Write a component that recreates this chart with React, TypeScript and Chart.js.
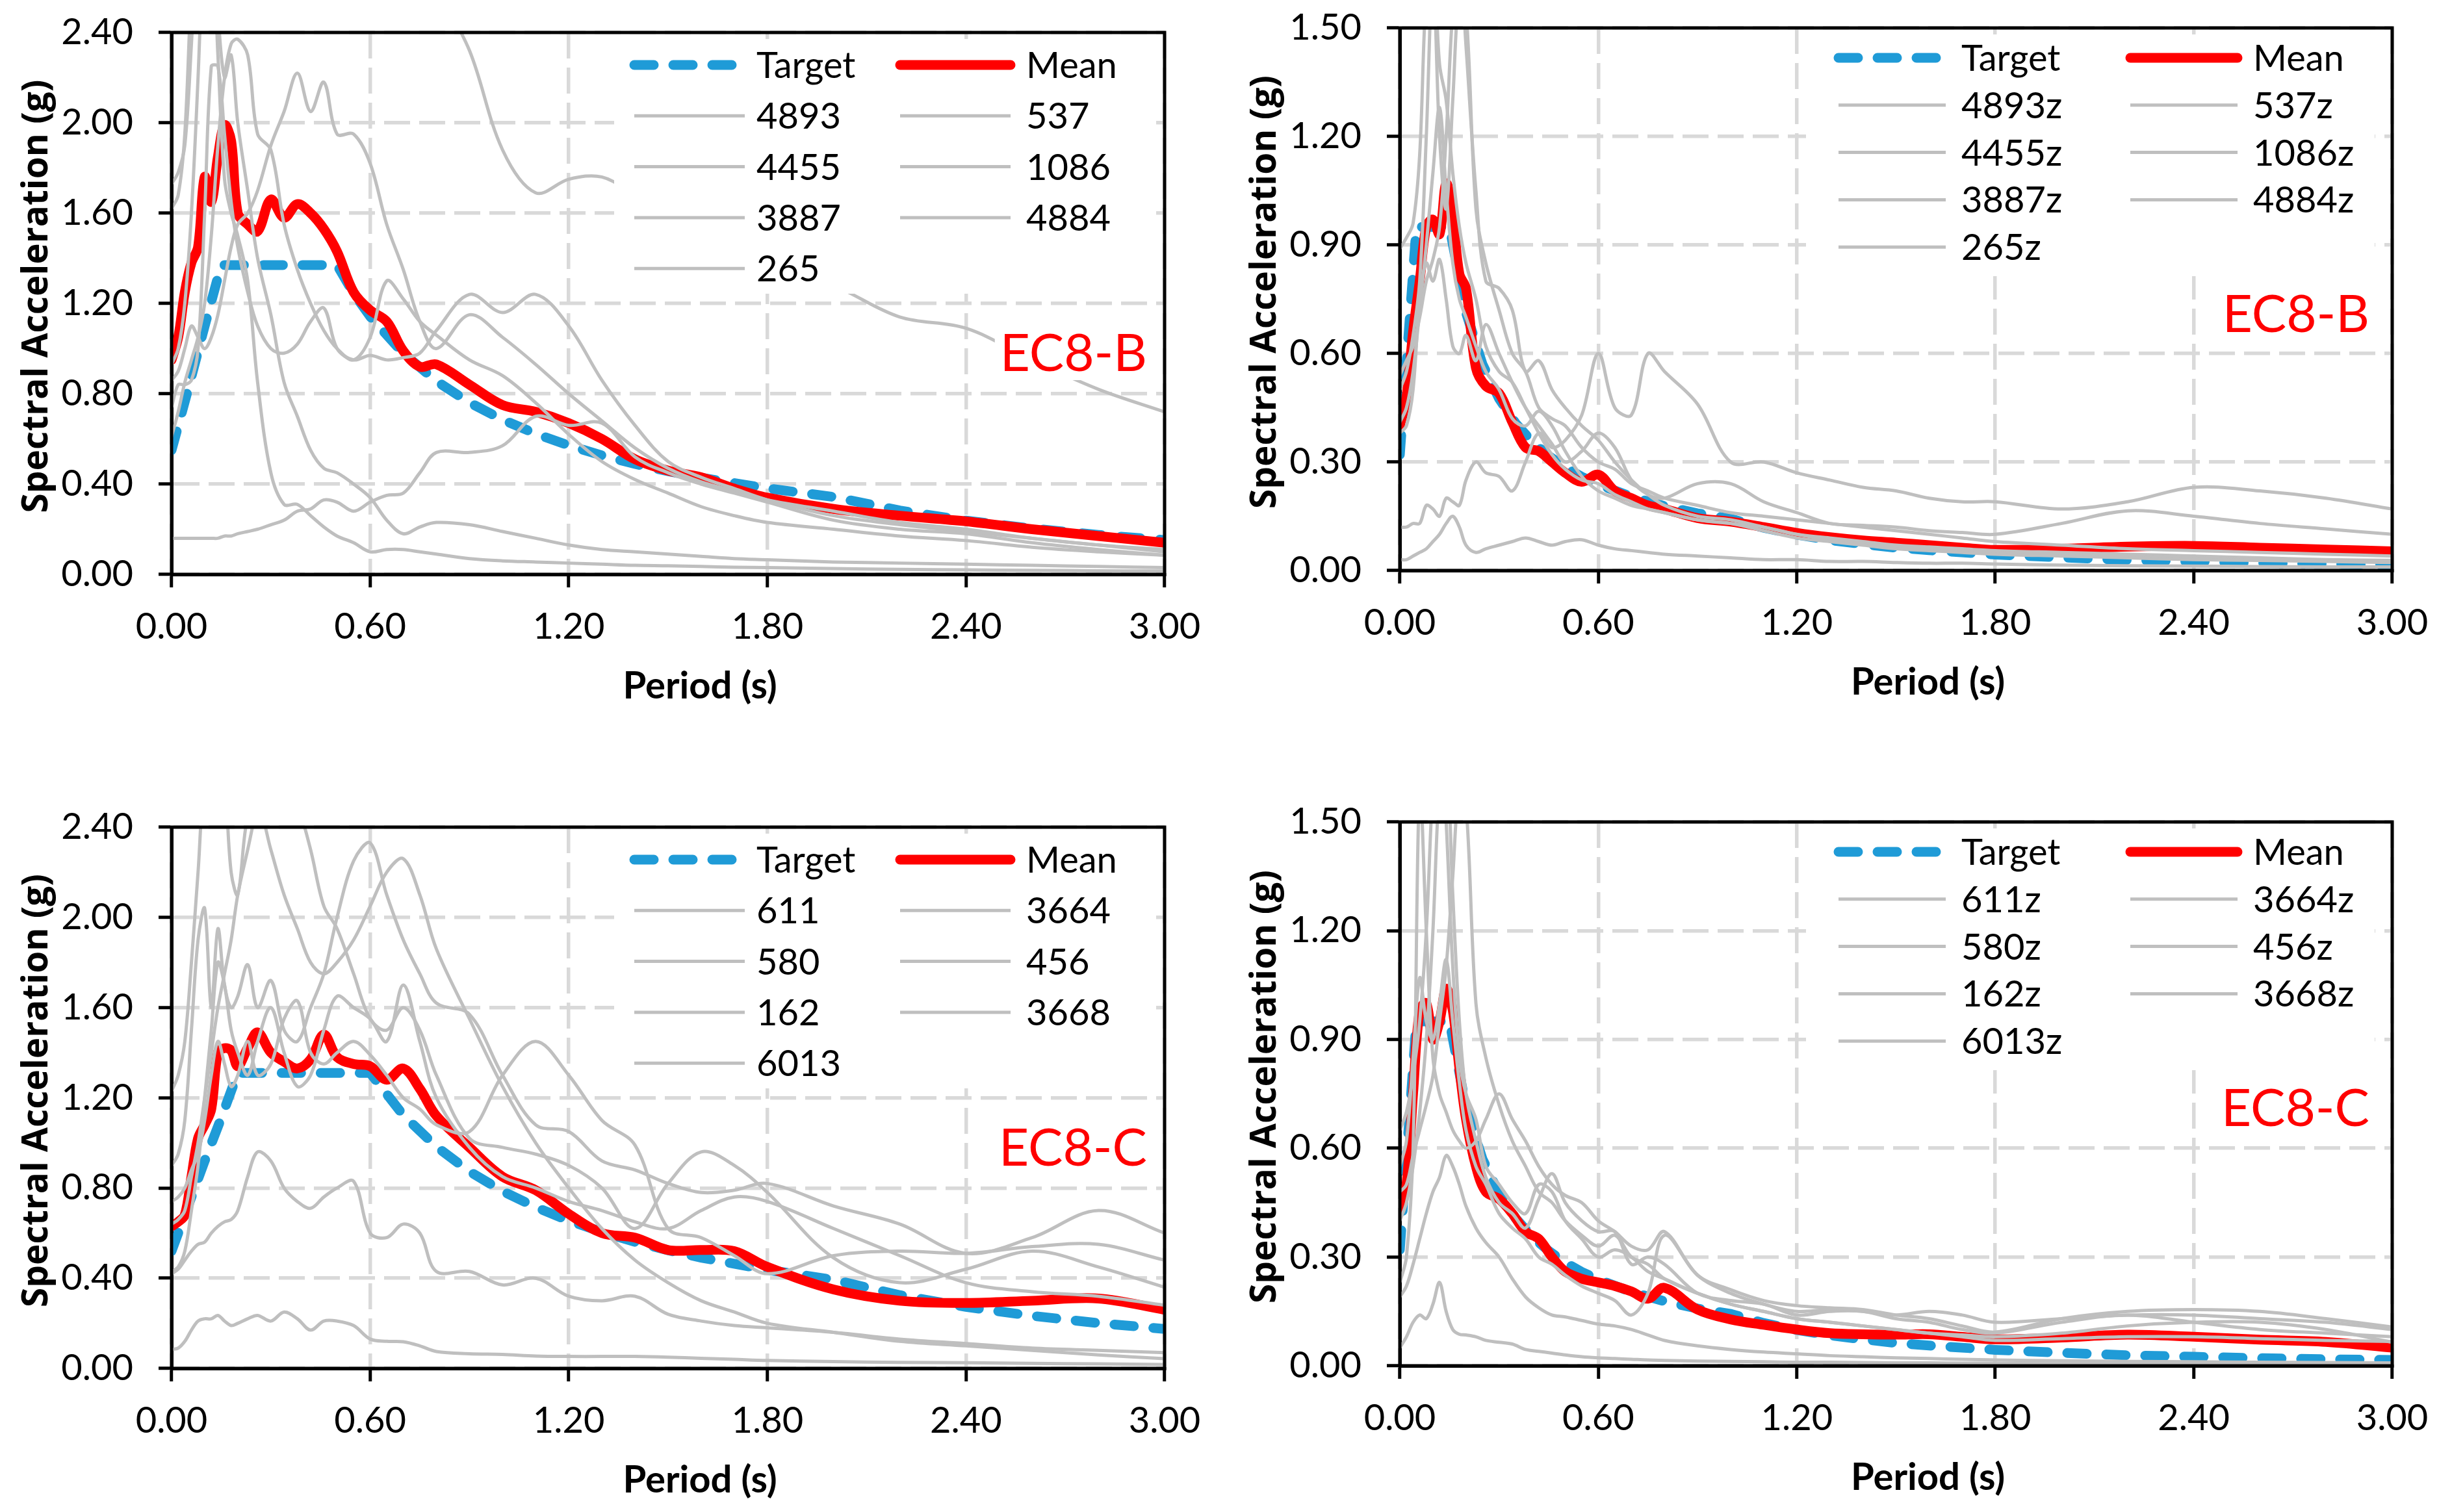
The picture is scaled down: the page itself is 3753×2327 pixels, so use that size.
import React, { useEffect, useRef } from 'react';
import { Chart, registerables } from 'chart.js';

Chart.register(...registerables);

// ---------- DATA ----------
// Period grid used by the record spectra and the mean spectra (s)
const PERIODS = [0, 0.02, 0.04, 0.06, 0.08, 0.10, 0.12, 0.14, 0.16, 0.18,
  0.20, 0.23, 0.26, 0.30, 0.34, 0.38, 0.42, 0.46, 0.50, 0.55,
  0.60, 0.65, 0.70, 0.75, 0.80, 0.90, 1.0, 1.1, 1.2, 1.3,
  1.4, 1.5, 1.6, 1.7, 1.8, 2.0, 2.2, 2.4, 2.6, 2.8, 3.0];

// Period grid used by the target (code) spectra (s)
const TARGET_PERIODS = [0, 0.05, 0.10, 0.15, 0.20, 0.25, 0.30, 0.35, 0.40, 0.45,
  0.50, 0.55, 0.60, 0.70, 0.80, 0.90, 1.0, 1.1, 1.2, 1.3,
  1.4, 1.5, 1.6, 1.8, 2.0, 2.2, 2.4, 2.6, 2.8, 3.0];

const X_TICK_STEP = 0.6;

// ---- EC8-B horizontal ----
const LABELS_BH = ['4893', '537', '4455', '1086', '3887', '4884', '265'];
const TARGET_BH = [0.55, 0.82, 1.10, 1.37, 1.37, 1.37, 1.37, 1.37, 1.37, 1.37,
  1.37, 1.245, 1.142, 0.979, 0.856, 0.761, 0.685, 0.623, 0.571, 0.527,
  0.489, 0.457, 0.428, 0.381, 0.343, 0.283, 0.238, 0.203, 0.175, 0.152];
const MEAN_BH = [0.95, 1.05, 1.25, 1.38, 1.45, 1.76, 1.65, 1.85, 1.99, 1.92,
  1.60, 1.55, 1.52, 1.66, 1.58, 1.64, 1.60, 1.53, 1.43, 1.25,
  1.17, 1.12, 0.99, 0.92, 0.93, 0.84, 0.75, 0.72, 0.67, 0.60,
  0.51, 0.46, 0.43, 0.38, 0.34, 0.29, 0.26, 0.235, 0.20, 0.17, 0.14];
const BH_4893 = [0.16, 0.16, 0.16, 0.16, 0.16, 0.16, 0.16, 0.16, 0.17, 0.17,
  0.18, 0.19, 0.20, 0.22, 0.24, 0.28, 0.29, 0.33, 0.32, 0.28,
  0.32, 0.35, 0.36, 0.45, 0.54, 0.54, 0.57, 0.70, 0.66, 0.67,
  0.52, 0.45, 0.40, 0.36, 0.32, 0.24, 0.20, 0.18, 0.14, 0.11, 0.085];
const BH_537 = [1.62, 1.68, 1.95, 2.6, 3.0, 2.7, 2.9, 2.3, 1.75, 1.6,
  1.5, 1.3, 0.85, 0.45, 0.31, 0.31, 0.26, 0.21, 0.17, 0.14,
  0.10, 0.11, 0.11, 0.10, 0.09, 0.07, 0.06, 0.055, 0.05, 0.045,
  0.04, 0.038, 0.035, 0.032, 0.03, 0.026, 0.022, 0.02, 0.018, 0.016, 0.015];
const BH_4455 = [0.93, 1.0, 1.2, 1.6, 2.2, 2.9, 3.1, 2.5, 2.2, 2.3,
  2.0, 1.7, 1.4, 1.15, 0.85, 0.70, 0.55, 0.47, 0.45, 0.40,
  0.34, 0.24, 0.18, 0.21, 0.23, 0.22, 0.19, 0.16, 0.13, 0.11,
  0.10, 0.09, 0.08, 0.07, 0.065, 0.055, 0.05, 0.045, 0.04, 0.035, 0.03];
const BH_1086 = [0.61, 0.72, 0.85, 0.95, 1.05, 1.2, 1.5, 1.9, 2.2, 2.35,
  2.37, 2.3, 1.95, 1.88, 1.55, 1.35, 1.2, 1.08, 1.0, 0.95,
  1.05, 1.3, 1.22, 1.12, 1.06, 0.95, 0.88, 0.76, 0.62, 0.50,
  0.42, 0.36, 0.30, 0.26, 0.23, 0.20, 0.17, 0.15, 0.12, 0.10, 0.085];
const BH_3887 = [0.74, 0.84, 0.84, 0.86, 1.0, 1.6, 2.25, 2.25, 1.95, 1.65,
  1.45, 1.25, 1.1, 1.0, 0.98, 1.02, 1.12, 1.18, 1.0, 0.95,
  0.97, 0.95, 0.96, 0.98, 1.08, 1.24, 1.16, 1.24, 1.10, 0.86,
  0.66, 0.50, 0.43, 0.38, 0.33, 0.26, 0.22, 0.19, 0.16, 0.13, 0.11];
const BH_4884 = [0.86, 0.90, 1.0, 1.1, 1.05, 1.0, 1.05, 1.15, 1.3, 1.45,
  1.55, 1.6, 1.7, 1.9, 2.05, 2.22, 2.05, 2.18, 1.95, 1.95,
  1.82, 1.55, 1.35, 1.12, 1.0, 1.15, 1.05, 0.93, 0.80, 0.68,
  0.56, 0.47, 0.41, 0.37, 0.33, 0.28, 0.23, 0.20, 0.16, 0.13, 0.10];
const BH_265 = [1.73, 1.78, 1.9, 2.35, 2.9, 3.2, 3.0, 3.3, 3.5, 3.4,
  3.2, 3.3, 3.4, 3.5, 3.4, 3.6, 3.5, 3.4, 3.5, 3.3,
  3.2, 3.0, 2.9, 2.75, 2.6, 2.32, 1.88, 1.69, 1.75, 1.76,
  1.68, 1.60, 1.52, 1.45, 1.38, 1.28, 1.14, 1.09, 0.95, 0.82, 0.72];

// ---- EC8-B vertical ----
const LABELS_BV = ['4893z', '537z', '4455z', '1086z', '3887z', '4884z', '265z'];
const TARGET_V = [0.32, 0.95, 0.95, 0.95, 0.713, 0.57, 0.475, 0.407, 0.356, 0.317,
  0.285, 0.259, 0.238, 0.204, 0.178, 0.158, 0.143, 0.118, 0.099, 0.084,
  0.073, 0.063, 0.056, 0.044, 0.036, 0.029, 0.025, 0.021, 0.018, 0.016];
const MEAN_BV = [0.40, 0.48, 0.66, 0.80, 0.95, 0.97, 0.93, 1.07, 0.98, 0.82,
  0.78, 0.56, 0.51, 0.49, 0.41, 0.34, 0.33, 0.30, 0.27, 0.245,
  0.265, 0.22, 0.20, 0.18, 0.17, 0.145, 0.135, 0.12, 0.104, 0.092,
  0.083, 0.077, 0.07, 0.063, 0.057, 0.06, 0.066, 0.068, 0.063, 0.058, 0.053];
const BV_4893 = [0.89, 0.92, 0.96, 1.15, 1.6, 1.7, 1.4, 1.3, 1.1, 0.95,
  0.85, 0.75, 0.62, 0.55, 0.52, 0.45, 0.38, 0.32, 0.28, 0.25,
  0.24, 0.21, 0.19, 0.17, 0.16, 0.14, 0.13, 0.11, 0.09, 0.08,
  0.07, 0.06, 0.055, 0.05, 0.045, 0.04, 0.035, 0.03, 0.028, 0.025, 0.022];
const BV_537 = [0.54, 0.58, 0.62, 0.70, 0.80, 0.86, 0.95, 1.2, 1.55, 1.7,
  1.45, 1.05, 0.80, 0.78, 0.72, 0.55, 0.58, 0.50, 0.45, 0.40,
  0.36, 0.30, 0.25, 0.21, 0.18, 0.15, 0.14, 0.12, 0.10, 0.085,
  0.075, 0.068, 0.06, 0.055, 0.05, 0.045, 0.04, 0.035, 0.03, 0.028, 0.025];
const BV_4455 = [0.12, 0.12, 0.13, 0.13, 0.18, 0.17, 0.15, 0.20, 0.19, 0.18,
  0.25, 0.30, 0.27, 0.26, 0.22, 0.30, 0.38, 0.34, 0.36, 0.43,
  0.60, 0.45, 0.43, 0.60, 0.55, 0.46, 0.30, 0.30, 0.27, 0.25,
  0.23, 0.22, 0.20, 0.19, 0.19, 0.17, 0.19, 0.23, 0.22, 0.20, 0.17];
const BV_1086 = [0.38, 0.40, 0.50, 0.75, 0.85, 0.80, 0.86, 0.75, 0.62, 0.60,
  0.65, 0.58, 0.68, 0.60, 0.52, 0.45, 0.40, 0.35, 0.30, 0.33,
  0.38, 0.34, 0.25, 0.21, 0.20, 0.24, 0.24, 0.19, 0.16, 0.13,
  0.125, 0.12, 0.11, 0.105, 0.10, 0.13, 0.165, 0.15, 0.13, 0.115, 0.10];
const BV_3887 = [0.03, 0.03, 0.04, 0.05, 0.06, 0.08, 0.10, 0.13, 0.15, 0.12,
  0.07, 0.05, 0.06, 0.07, 0.08, 0.09, 0.08, 0.07, 0.08, 0.085,
  0.07, 0.06, 0.055, 0.05, 0.045, 0.04, 0.035, 0.03, 0.03, 0.025,
  0.025, 0.022, 0.02, 0.02, 0.018, 0.015, 0.013, 0.012, 0.011, 0.01, 0.01];
const BV_4884 = [0.41, 0.45, 0.55, 0.72, 0.90, 1.1, 1.28, 1.05, 0.85, 0.75,
  0.70, 0.62, 0.55, 0.50, 0.42, 0.40, 0.44, 0.40, 0.33, 0.26,
  0.22, 0.20, 0.18, 0.17, 0.16, 0.14, 0.13, 0.12, 0.10, 0.09,
  0.08, 0.07, 0.065, 0.06, 0.055, 0.05, 0.045, 0.04, 0.035, 0.03, 0.028];
const BV_265 = [0.50, 0.55, 0.65, 0.80, 1.2, 1.65, 1.2, 1.0, 1.3, 1.6,
  1.55, 1.0, 0.85, 0.72, 0.60, 0.55, 0.45, 0.42, 0.40, 0.34,
  0.30, 0.28, 0.24, 0.22, 0.20, 0.18, 0.16, 0.15, 0.14, 0.13,
  0.12, 0.11, 0.10, 0.09, 0.08, 0.07, 0.06, 0.055, 0.05, 0.045, 0.04];

// ---- EC8-C horizontal ----
const LABELS_CH = ['611', '3664', '580', '456', '162', '3668', '6013'];
const TARGET_CH = [0.52, 0.72, 0.92, 1.11, 1.31, 1.31, 1.31, 1.31, 1.31, 1.31,
  1.31, 1.31, 1.31, 1.123, 0.983, 0.873, 0.786, 0.715, 0.655, 0.605,
  0.561, 0.524, 0.491, 0.437, 0.393, 0.325, 0.273, 0.233, 0.201, 0.175];
const MEAN_CH = [0.63, 0.65, 0.68, 0.85, 1.02, 1.08, 1.15, 1.40, 1.42, 1.41,
  1.34, 1.42, 1.49, 1.40, 1.36, 1.33, 1.37, 1.48, 1.38, 1.35,
  1.34, 1.28, 1.33, 1.24, 1.12, 0.98, 0.85, 0.79, 0.685, 0.60,
  0.58, 0.525, 0.525, 0.52, 0.45, 0.35, 0.30, 0.29, 0.30, 0.31, 0.26];
const CH_611 = [0.085, 0.09, 0.12, 0.17, 0.21, 0.22, 0.22, 0.235, 0.21, 0.19,
  0.20, 0.22, 0.235, 0.21, 0.25, 0.22, 0.17, 0.21, 0.21, 0.19,
  0.13, 0.12, 0.118, 0.10, 0.075, 0.065, 0.062, 0.055, 0.053, 0.053,
  0.053, 0.05, 0.045, 0.04, 0.035, 0.03, 0.027, 0.025, 0.022, 0.02, 0.017];
const CH_3664 = [0.42, 0.44, 0.48, 0.52, 0.55, 0.56, 0.60, 0.63, 0.65, 0.66,
  0.70, 0.85, 0.96, 0.92, 0.80, 0.74, 0.71, 0.76, 0.80, 0.83,
  0.60, 0.58, 0.64, 0.60, 0.43, 0.43, 0.37, 0.40, 0.32, 0.30,
  0.32, 0.24, 0.21, 0.19, 0.18, 0.16, 0.13, 0.11, 0.09, 0.08, 0.07];
const CH_580 = [1.23, 1.30, 1.45, 1.8, 2.2, 2.6, 2.5, 2.7, 2.6, 2.2,
  2.1, 2.45, 2.5, 2.3, 2.1, 1.95, 1.8, 1.75, 1.8, 1.9,
  2.05, 2.2, 2.26, 2.1, 1.86, 1.55, 1.25, 1.0, 0.80, 0.62,
  0.48, 0.38, 0.30, 0.25, 0.20, 0.16, 0.12, 0.10, 0.08, 0.06, 0.043];
const CH_456 = [0.90, 0.95, 1.1, 1.5, 1.9, 2.04, 1.6, 1.95, 1.7, 1.6,
  1.65, 1.79, 1.6, 1.72, 1.5, 1.45, 1.6, 1.75, 2.0, 2.25,
  2.33, 2.1, 1.9, 1.75, 1.62, 1.57, 1.3, 1.08, 1.05, 0.92,
  0.88, 0.82, 0.78, 0.79, 0.82, 0.72, 0.64, 0.51, 0.58, 0.70, 0.60];
const CH_162 = [0.74, 0.76, 0.80, 0.88, 0.95, 1.1, 1.3, 1.45, 1.35, 1.25,
  1.3, 1.45, 1.3, 1.35, 1.55, 1.63, 1.4, 1.35, 1.4, 1.45,
  1.39, 1.3, 1.2, 1.15, 1.08, 1.05, 1.3, 1.45, 1.3, 1.1,
  0.99, 0.62, 0.58, 0.50, 0.42, 0.50, 0.52, 0.51, 0.54, 0.55, 0.48];
const CH_3668 = [0.64, 0.66, 0.70, 0.85, 1.0, 1.2, 1.4, 1.6, 1.75, 1.9,
  2.1, 2.3, 2.5, 2.7, 2.6, 2.5, 2.3, 2.05, 1.95, 1.75,
  1.55, 1.5, 1.6, 1.5, 1.3, 1.02, 0.98, 0.95, 0.90, 0.80,
  0.62, 0.82, 0.96, 0.90, 0.78, 0.49, 0.38, 0.44, 0.52, 0.45, 0.36];
const CH_6013 = [0.43, 0.45, 0.52, 0.70, 0.90, 1.2, 1.5, 1.8, 1.7, 1.5,
  1.4, 1.3, 1.45, 1.6, 1.4, 1.25, 1.3, 1.5, 1.65, 1.6,
  1.55, 1.45, 1.7, 1.45, 1.2, 0.98, 0.85, 0.80, 0.74, 0.70,
  0.65, 0.62, 0.70, 0.76, 0.74, 0.62, 0.50, 0.38, 0.34, 0.32, 0.28];

// ---- EC8-C vertical ----
const LABELS_CV = ['611z', '3664z', '580z', '456z', '162z', '3668z', '6013z'];
const MEAN_CV = [0.43, 0.50, 0.75, 0.98, 1.0, 0.90, 0.95, 1.04, 0.98, 0.82,
  0.68, 0.55, 0.48, 0.46, 0.42, 0.37, 0.35, 0.30, 0.26, 0.24,
  0.23, 0.22, 0.205, 0.185, 0.215, 0.155, 0.128, 0.113, 0.10, 0.09,
  0.087, 0.086, 0.087, 0.08, 0.073, 0.078, 0.086, 0.08, 0.072, 0.066, 0.05];
const CV_611 = [0.05, 0.08, 0.12, 0.14, 0.13, 0.17, 0.23, 0.15, 0.10, 0.087,
  0.085, 0.08, 0.07, 0.065, 0.06, 0.045, 0.04, 0.035, 0.03, 0.025,
  0.022, 0.02, 0.018, 0.016, 0.015, 0.013, 0.012, 0.011, 0.01, 0.01,
  0.009, 0.008, 0.008, 0.007, 0.007, 0.006, 0.006, 0.005, 0.005, 0.005, 0.005];
const CV_3664 = [0.19, 0.22, 0.28, 0.35, 0.42, 0.48, 0.52, 0.58, 0.55, 0.50,
  0.44, 0.38, 0.34, 0.30, 0.24, 0.19, 0.16, 0.14, 0.135, 0.125,
  0.115, 0.11, 0.10, 0.085, 0.07, 0.055, 0.045, 0.038, 0.033, 0.028,
  0.025, 0.022, 0.02, 0.018, 0.016, 0.014, 0.012, 0.011, 0.01, 0.009, 0.008];
const CV_580 = [0.23, 0.30, 0.60, 1.6, 1.2, 0.85, 0.75, 0.70, 0.65, 0.62,
  0.60, 0.62, 0.68, 0.75, 0.68, 0.62, 0.55, 0.50, 0.47, 0.45,
  0.40, 0.37, 0.33, 0.32, 0.37, 0.25, 0.21, 0.18, 0.166, 0.16,
  0.155, 0.14, 0.13, 0.11, 0.093, 0.13, 0.15, 0.155, 0.15, 0.13, 0.107];
const CV_456 = [0.40, 0.45, 0.55, 0.70, 0.90, 1.2, 1.6, 1.7, 1.3, 0.95,
  0.75, 0.62, 0.52, 0.45, 0.42, 0.38, 0.46, 0.53, 0.45, 0.40,
  0.37, 0.37, 0.28, 0.30, 0.28, 0.20, 0.18, 0.17, 0.14, 0.15,
  0.15, 0.13, 0.12, 0.10, 0.09, 0.12, 0.14, 0.12, 0.10, 0.09, 0.08];
const CV_162 = [0.48, 0.50, 0.58, 0.65, 0.72, 0.80, 0.95, 1.1, 1.35, 1.6,
  1.55, 1.0, 0.85, 0.72, 0.62, 0.55, 0.48, 0.45, 0.40, 0.36,
  0.33, 0.36, 0.30, 0.28, 0.24, 0.20, 0.17, 0.15, 0.13, 0.12,
  0.11, 0.10, 0.09, 0.085, 0.08, 0.09, 0.11, 0.12, 0.12, 0.10, 0.065];
const CV_3668 = [0.55, 0.62, 0.85, 1.07, 0.95, 0.90, 1.0, 1.12, 0.95, 0.78,
  0.65, 0.55, 0.50, 0.42, 0.38, 0.35, 0.30, 0.28, 0.25, 0.22,
  0.20, 0.18, 0.14, 0.20, 0.36, 0.25, 0.20, 0.17, 0.15, 0.155,
  0.15, 0.14, 0.15, 0.14, 0.12, 0.13, 0.14, 0.14, 0.13, 0.12, 0.10];
const CV_6013 = [0.65, 0.70, 0.80, 0.95, 1.2, 1.6, 1.8, 1.5, 1.1, 0.85,
  0.75, 0.68, 0.55, 0.50, 0.45, 0.42, 0.50, 0.48, 0.40, 0.35,
  0.30, 0.32, 0.30, 0.26, 0.24, 0.20, 0.17, 0.15, 0.13, 0.12,
  0.11, 0.10, 0.09, 0.08, 0.07, 0.075, 0.08, 0.08, 0.075, 0.07, 0.067];

// ---------- STYLE / LAYOUT ----------
const BLUE = '#1f9bd7';
const RED = '#ff0000';
const GREY = '#bfbfbf';
const GRID = '#d9d9d9';
const CW = 1876;
const CH = 1163;

const LEG_H = { boxL: 681, boxT: 10, boxR: 1504, boxB: 402, row0: 50, rowH: 78.3, c1Sym: 712, c1Txt: 900, c2Sym: 1121, c2Txt: 1315, symLen: 170 };
const LEG_V = { boxL: 625, boxT: 10, boxR: 1500, boxB: 382, row0: 46, rowH: 72.8, c1Sym: 675, c1Txt: 864, c2Sym: 1124, c2Txt: 1313, symLen: 165 };

const PANELS = [
  { left: 0, top: 0, area: { l: 264, t: 50, r: 1792, b: 884 }, yMax: 2.4, yStep: 0.4,
    target: TARGET_BH, mean: MEAN_BH, labels: LABELS_BH,
    records: [BH_4893, BH_537, BH_4455, BH_1086, BH_3887, BH_4884, BH_265],
    site: 'EC8-B', siteRight: 27, siteBase: 521, legend: LEG_H },
  { left: CW, top: 0, area: { l: 278, t: 43, r: 1805, b: 878 }, yMax: 1.5, yStep: 0.3,
    target: TARGET_V, mean: MEAN_BV, labels: LABELS_BV,
    records: [BV_4893, BV_537, BV_4455, BV_1086, BV_3887, BV_4884, BV_265],
    site: 'EC8-B', siteRight: 35, siteBase: 468, legend: LEG_V },
  { left: 0, top: CH, area: { l: 264, t: 110, r: 1792, b: 943 }, yMax: 2.4, yStep: 0.4,
    target: TARGET_CH, mean: MEAN_CH, labels: LABELS_CH,
    records: [CH_611, CH_3664, CH_580, CH_456, CH_162, CH_3668, CH_6013],
    site: 'EC8-C', siteRight: 27, siteBase: 521, legend: LEG_H },
  { left: CW, top: CH, area: { l: 278, t: 102, r: 1805, b: 939 }, yMax: 1.5, yStep: 0.3,
    target: TARGET_V, mean: MEAN_CV, labels: LABELS_CV,
    records: [CV_611, CV_3664, CV_580, CV_456, CV_162, CV_3668, CV_6013],
    site: 'EC8-C', siteRight: 35, siteBase: 468, legend: LEG_V },
];

function makeDecor(panel: any) {
  return {
    id: 'decor',
    afterDatasetsDraw(chart: any) {
      const { ctx, chartArea: ca } = chart;
      ctx.save();
      // site label with white text-box background
      ctx.font = '80px Lato';
      const w = ctx.measureText(panel.site).width;
      const xr = ca.right - panel.siteRight;
      const yb = ca.top + panel.siteBase;
      ctx.fillStyle = '#ffffff';
      ctx.fillRect(xr - w - 8, yb - 66, w + 16, 80);
      ctx.fillStyle = RED;
      ctx.textAlign = 'right';
      ctx.textBaseline = 'alphabetic';
      ctx.fillText(panel.site, xr, yb);

      // legend
      const L = panel.legend;
      ctx.fillStyle = '#ffffff';
      ctx.fillRect(ca.left + L.boxL, ca.top + L.boxT, L.boxR - L.boxL, L.boxB - L.boxT);
      chart.data.datasets.forEach((ds: any, i: number) => {
        const col = i % 2;
        const row = Math.floor(i / 2);
        const y = ca.top + L.row0 + row * L.rowH;
        const sx = ca.left + (col ? L.c2Sym : L.c1Sym);
        ctx.save();
        ctx.strokeStyle = ds.borderColor;
        ctx.lineWidth = ds.borderWidth;
        ctx.setLineDash(ds.borderDash || []);
        ctx.lineCap = ds.borderCapStyle || 'butt';
        ctx.beginPath();
        ctx.moveTo(sx, y);
        ctx.lineTo(sx + L.symLen, y);
        ctx.stroke();
        ctx.restore();
        ctx.fillStyle = '#000000';
        ctx.font = '56px Lato';
        ctx.textAlign = 'left';
        ctx.textBaseline = 'middle';
        ctx.fillText(ds.label, ca.left + (col ? L.c2Txt : L.c1Txt), y + 2);
      });
      ctx.restore();
    },
    afterDraw(chart: any) {
      const { ctx, chartArea: ca } = chart;
      ctx.save();
      ctx.strokeStyle = '#000000';
      ctx.lineWidth = 5;
      ctx.setLineDash([]);
      ctx.strokeRect(ca.left, ca.top, ca.right - ca.left, ca.bottom - ca.top);
      ctx.fillStyle = '#000000';
      ctx.save();
      ctx.translate(ca.left - 207, (ca.top + ca.bottom) / 2 - 11);
      ctx.rotate(-Math.PI / 2);
      ctx.font = 'bold 55px "Open Sans"';
      ctx.textAlign = 'center';
      ctx.textBaseline = 'middle';
      ctx.fillText('Spectral Acceleration (g)', 0, 0);
      ctx.restore();
      ctx.font = 'bold 58px Lato';
      ctx.textAlign = 'center';
      ctx.textBaseline = 'alphabetic';
      ctx.fillText('Period (s)', (ca.left + ca.right) / 2 + 49, ca.bottom + 191);
      ctx.restore();
    },
  };
}

function buildChart(canvas: HTMLCanvasElement, panel: any) {
  const a = panel.area;
  const datasets: any[] = [
    {
      label: 'Target',
      data: TARGET_PERIODS.map((x, i) => ({ x, y: panel.target[i] })),
      borderColor: BLUE, borderWidth: 15, borderDash: [30, 30], borderCapStyle: 'round',
      tension: 0, order: 3,
    },
    {
      label: 'Mean',
      data: PERIODS.map((x, i) => ({ x, y: panel.mean[i] })),
      borderColor: RED, borderWidth: 15, borderCapStyle: 'round', borderJoinStyle: 'round',
      tension: 0.35, order: 2,
    },
    ...panel.labels.map((lab: string, k: number) => ({
      label: lab,
      data: PERIODS.map((x, i) => ({ x, y: panel.records[k][i] })),
      borderColor: GREY, borderWidth: 5, borderJoinStyle: 'round',
      tension: 0.35, order: 1,
    })),
  ];
  const gridOpts = {
    color: GRID, lineWidth: 5.5, tickColor: '#000000', tickWidth: 5, tickLength: 20,
    drawTicks: true, drawOnChartArea: true, tickBorderDash: [],
  };
  const borderOpts = { display: true, color: '#000000', width: 5, dash: [40, 14] };
  const tickFont = { family: 'Lato', size: 56 };
  return new Chart(canvas, {
    type: 'line',
    data: { datasets },
    options: {
      animation: false,
      responsive: false,
      events: [],
      layout: { padding: { left: 0, top: a.t, right: CW - a.r, bottom: 0 } },
      elements: { point: { radius: 0 } },
      plugins: { legend: { display: false }, tooltip: { enabled: false } },
      scales: {
        x: {
          type: 'linear', min: 0, max: 3,
          afterFit: (s: any) => {
            s.height = CH - a.b;
            s.paddingLeft = 0;
            s.paddingRight = 0;
          },
          ticks: {
            stepSize: X_TICK_STEP, autoSkip: false, maxRotation: 0, color: '#000000',
            font: tickFont, padding: 27,
            callback: (v: any) => Number(v).toFixed(2),
          },
          grid: gridOpts,
          border: borderOpts,
        },
        y: {
          type: 'linear', min: 0, max: panel.yMax,
          afterFit: (s: any) => {
            s.width = a.l;
            s.paddingTop = 0;
            s.paddingBottom = 0;
          },
          ticks: {
            stepSize: panel.yStep, autoSkip: false, color: '#000000',
            font: tickFont, padding: 39,
            callback: (v: any) => Number(v).toFixed(2),
          },
          grid: gridOpts,
          border: borderOpts,
        },
      },
    } as any,
    plugins: [makeDecor(panel)],
  });
}

function Panel({ panel }: { panel: any }) {
  const ref = useRef<HTMLCanvasElement>(null);
  useEffect(() => {
    if (!ref.current) return;
    const chart = buildChart(ref.current, panel);
    return () => chart.destroy();
  }, [panel]);
  return (
    <canvas
      ref={ref}
      width={CW}
      height={CH}
      style={{ position: 'absolute', left: panel.left, top: panel.top, width: CW, height: CH }}
    />
  );
}

export default function App() {
  return (
    <div style={{ position: 'absolute', left: 0, top: 0, width: 3753, height: 2327, background: '#ffffff', overflow: 'hidden' }}>
      {PANELS.map((p, i) => <Panel key={i} panel={p} />)}
    </div>
  );
}
